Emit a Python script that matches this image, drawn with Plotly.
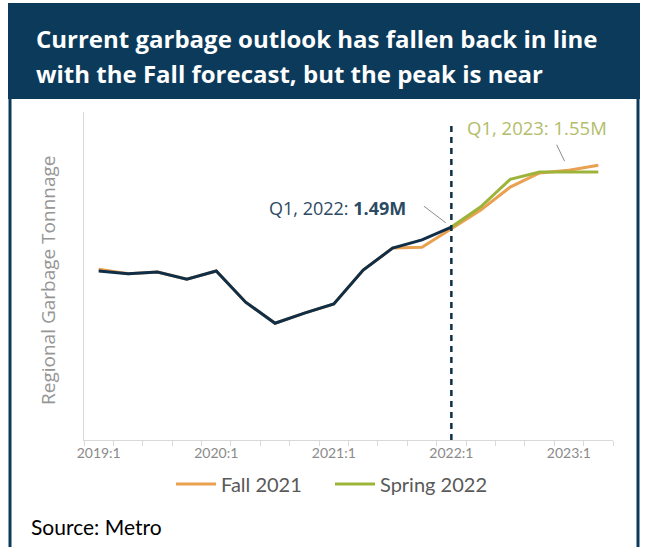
import plotly.graph_objects as go

# ---------------- data ----------------
quarters = ["2019:1", "2019:2", "2019:3", "2019:4",
            "2020:1", "2020:2", "2020:3", "2020:4",
            "2021:1", "2021:2", "2021:3", "2021:4",
            "2022:1", "2022:2", "2022:3", "2022:4",
            "2023:1", "2023:2"]
tick_labels = [q if q.endswith(":1") else "" for q in quarters]

actual = [1.442, 1.439, 1.441, 1.433, 1.442, 1.408, 1.385, 1.396,
          1.406, 1.443, 1.467, 1.476, 1.490]
fall_2021 = [1.444, 1.439, 1.441, 1.433, 1.442, 1.408, 1.385, 1.396,
             1.406, 1.443, 1.467, 1.468, 1.488, 1.5085, 1.5335, 1.549,
             1.552, 1.5575]
spring_quarters = quarters[12:]
spring_2022 = [1.490, 1.512, 1.542, 1.550, 1.550, 1.550]

ann_2022_label = "Q1, 2022: <b>1.49M</b>"
ann_2023_label = "Q1, 2023: 1.55M"

# ---------------- style ----------------
W, H = 645, 547
L, R, T, B = 84, 32, 112, 107
NAVY = "#0b3a5b"
LINE_DARK = "#0f2e48"
ORANGE = "#e9a04f"
GREEN = "#9db43a"
GRAY_TXT = "#8a8a8a"
AXIS_GRAY = "#d9d9d9"

pw, ph = W - L - R, H - T - B


def px_x(x):
    return (x - L) / pw


def px_y(y):
    return (H - B - y) / ph


fig = go.Figure()
fig.add_trace(go.Scatter(x=quarters, y=fall_2021, mode="lines", name="Fall 2021",
                         line=dict(color=ORANGE, width=3)))
fig.add_trace(go.Scatter(x=spring_quarters, y=spring_2022, mode="lines", name="Spring 2022",
                         line=dict(color=GREEN, width=3)))
fig.add_trace(go.Scatter(x=quarters[:len(actual)], y=actual, mode="lines", name="Actual",
                         showlegend=False, line=dict(color=LINE_DARK, width=3)))

shapes = [
    # title band
    dict(type="rect", xref="paper", yref="paper",
         x0=px_x(8), x1=px_x(640), y0=px_y(99), y1=px_y(3),
         fillcolor=NAVY, line=dict(width=0), layer="below"),
    # frame
    dict(type="path", xref="paper", yref="paper",
         path=f"M {px_x(10)} {px_y(99)} L {px_x(10)} {px_y(549)} M {px_x(638)} {px_y(99)} L {px_x(638)} {px_y(549)}",
         line=dict(color=NAVY, width=3), layer="below"),
    # dashed marker at 2022:1
    dict(type="line", xref="x", yref="paper", x0="2022:1", x1="2022:1",
         y0=0, y1=px_y(124), line=dict(color=LINE_DARK, width=2.5, dash="6px,5px")),
]

annotations = [
    dict(text="<b>Current garbage outlook has fallen back in line</b>", xref="paper", yref="paper",
         x=px_x(34), y=px_y(38), xanchor="left", yanchor="middle", showarrow=False,
         font=dict(family="Open Sans", size=24, color="white")),
    dict(text="<b>with the Fall forecast, but the peak is near</b>", xref="paper", yref="paper",
         x=px_x(34), y=px_y(74), xanchor="left", yanchor="middle", showarrow=False,
         font=dict(family="Open Sans", size=24, color="white")),
    dict(text="Regional Garbage Tonnnage", xref="paper", yref="paper",
         x=px_x(48), y=px_y(280), textangle=-90, showarrow=False,
         xanchor="center", yanchor="middle",
         font=dict(family="Open Sans", size=19, color="#969696")),
    dict(text="Source: Metro", xref="paper", yref="paper",
         x=px_x(29), y=px_y(526), xanchor="left", yanchor="middle", showarrow=False,
         font=dict(family="Lato", size=21, color="#000000")),
    # annotation text Q1 2022
    dict(text=ann_2022_label, xref="paper", yref="paper",
         x=px_x(408), y=px_y(208), xanchor="right", yanchor="middle", showarrow=False,
         font=dict(family="Open Sans", size=18, color="#2c4a63")),
    dict(text="", x="2022:1", y=actual[12], xref="x", yref="y",
         showarrow=True, arrowhead=0, arrowwidth=1, arrowcolor="#8c8c8c",
         ax=-29, ay=-22, standoff=7),
    # annotation text Q1 2023
    dict(text=ann_2023_label, xref="paper", yref="paper",
         x=px_x(537), y=px_y(127), xanchor="center", yanchor="middle", showarrow=False,
         font=dict(family="Open Sans", size=18.5, color="#b2bd6a")),
    dict(text="", x="2023:1", y=fall_2021[16], xref="x", yref="y",
         showarrow=True, arrowhead=0, arrowwidth=1, arrowcolor="#8c8c8c",
         ax=-13, ay=-27, standoff=10),
]

fig.update_layout(
    width=W, height=H,
    margin=dict(l=L, r=R, t=T, b=B, autoexpand=False),
    paper_bgcolor="white", plot_bgcolor="white",
    shapes=shapes, annotations=annotations,
    showlegend=True,
    legend=dict(orientation="h", xref="container", yref="container",
                x=171 / W, y=1 - 484 / H, xanchor="left", yanchor="middle",
                font=dict(family="Lato", size=20, color="#595959"),
                itemwidth=40, entrywidth=104, entrywidthmode="pixels",
                tracegroupgap=0),
    xaxis=dict(type="category", categoryorder="array", categoryarray=quarters,
               range=[-0.5, len(quarters) - 0.5],
               tickmode="array", tickvals=quarters, ticktext=tick_labels,
               tickson="boundaries", ticks="outside", ticklen=5, tickcolor=AXIS_GRAY,
               showline=True, linecolor=AXIS_GRAY, linewidth=1, showgrid=False,
               zeroline=False, tickangle=0,
               tickfont=dict(family="Lato", size=14, color=GRAY_TXT)),
    yaxis=dict(range=[1.2576, 1.6155], showticklabels=False, showgrid=False,
               zeroline=False, showline=True, linecolor=AXIS_GRAY, linewidth=1,
               ticks=""),
)

fig.write_html("out.html")
